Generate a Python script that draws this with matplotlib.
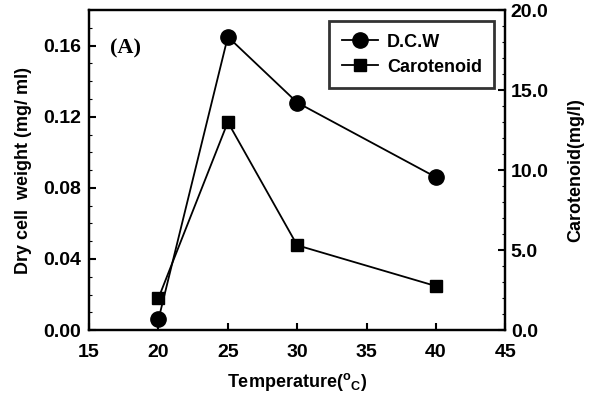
import matplotlib
matplotlib.use("Agg")
import matplotlib.pyplot as plt
from matplotlib.ticker import MultipleLocator

plt.rcParams["font.family"] = ["Liberation Sans", "DejaVu Sans"]
plt.rcParams["font.weight"] = "bold"
plt.rcParams["axes.labelweight"] = "bold"
plt.rcParams["mathtext.fontset"] = "custom"
plt.rcParams["mathtext.rm"] = "Liberation Sans:bold"
plt.rcParams["mathtext.bf"] = "Liberation Sans:bold"

# Datos
temperature = [20, 25, 30, 40]
dcw = [0.006, 0.165, 0.128, 0.086]          # mg/ml
carotenoid = [2.0, 13.0, 5.3, 2.75]         # mg/l

fig = plt.figure(figsize=(5.98, 4.05), dpi=100)
ax = fig.add_axes([0.149, 0.185, 0.696, 0.79])
ax2 = ax.twinx()

l1, = ax.plot(temperature, dcw, color="black", lw=1.3, marker="o",
              markersize=11, label="D.C.W")
l2, = ax2.plot(temperature, carotenoid, color="black", lw=1.3, marker="s",
               markersize=9, label="Carotenoid")

ax.set_xlim(15, 45)
ax.set_ylim(0, 0.18)
ax2.set_ylim(0, 20)
ax.set_xticks([15, 20, 25, 30, 35, 40, 45])
ax.set_yticks([0.00, 0.04, 0.08, 0.12, 0.16])
ax.set_yticklabels(["0.00", "0.04", "0.08", "0.12", "0.16"])
ax2.set_yticks([0, 5, 10, 15, 20])
ax2.set_yticklabels(["0.0", "5.0", "10.0", "15.0", "20.0"])
ax.yaxis.set_minor_locator(MultipleLocator(0.01))
ax2.yaxis.set_minor_locator(MultipleLocator(1))

for a in (ax, ax2):
    for s in a.spines.values():
        s.set_linewidth(1.6)
    a.tick_params(direction="in", width=1.5, length=5, labelsize=14)
    a.tick_params(which="minor", direction="in", width=0.8, length=2.5)
ax.tick_params(axis="x", pad=10)
ax.tick_params(axis="y", pad=6)
ax2.tick_params(axis="y", pad=4)

ax.set_xlabel(r"Temperature($^{\rm o}$$_{\rm C}$)", fontsize=13, labelpad=7)
ax.set_ylabel("Dry cell  weight (mg/ ml)", fontsize=13, labelpad=8)
ax2.set_ylabel("Carotenoid(mg/l)", fontsize=13, labelpad=13)

ax.text(0.05, 0.865, "(A)", transform=ax.transAxes, fontsize=16,
        family=["Liberation Serif", "DejaVu Serif"], fontweight="bold")

leg = ax2.legend(handles=[l1, l2], loc="upper right", fontsize=13,
                 frameon=True, fancybox=False, edgecolor="black",
                 borderaxespad=0.6, borderpad=0.7, handlelength=2.0,
                 handletextpad=0.5, labelspacing=0.45)
leg.get_frame().set_linewidth(2)

fig.savefig("out.png", dpi=100)
